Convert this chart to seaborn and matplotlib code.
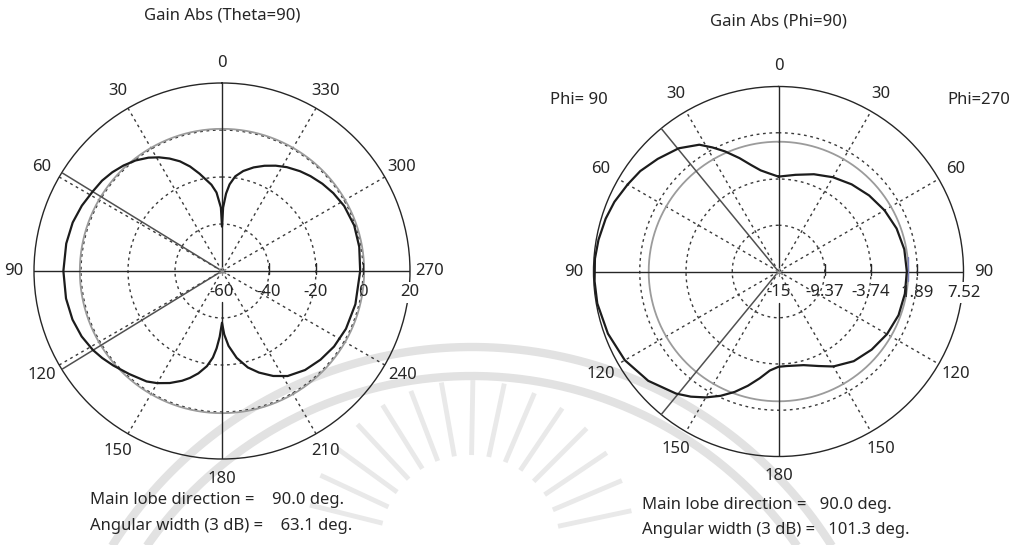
import numpy as np
import matplotlib
matplotlib.use("Agg")
import matplotlib.pyplot as plt
import seaborn as sns

sns.set_style("white")
plt.rcParams["font.family"] = ["Noto Sans", "DejaVu Sans"]

W, H, DPI = 1022, 545, 100

# ---------------- Gain Abs (Theta=90) : dB vs angle ----------------
theta90_angle = [0, 1, 4, 7, 10, 13, 17, 21, 25, 29, 33, 38, 43, 48, 53, 58.5,
                 65, 72, 80, 90, 100, 108, 115, 121.5, 126, 131, 138, 145.7,
                 150, 155, 160, 163.3, 167, 171, 174, 176, 178, 180, 182, 185,
                 189.6, 195, 200, 206, 212, 220, 228, 236, 245, 256, 270, 280,
                 289, 298, 305, 311, 317, 322, 328, 333, 338, 343, 348, 352,
                 355, 357, 359, 360]
theta90_gain = [-41, -33, -26.5, -23, -20.5, -17.5, -13.5, -10, -7.2, -4.7,
                -2.5, -0.3, 1.4, 2.8, 3.9, 4.6, 5.8, 6.8, 7.3, 7.5, 7.4, 6.9,
                5.9, 4.4, 3.0, 1.3, -1.0, -3.1, -4.9, -7.4, -10.3, -12.5,
                -15.3, -19, -23, -27, -32, -38, -33, -28, -22.5, -17.5, -14,
                -10.3, -7.3, -5.0, -3.6, -2.5, -1.8, -1.5, -1.2, -0.7, -0.5,
                -1.1, -2.2, -3.4, -4.8, -6.1, -7.9, -9.7, -11.7, -13.9, -16.5,
                -19.3, -23, -27, -33, -41]
theta90_rticks = [-60, -40, -20, 0, 20]
theta90_rtick_labels = ["-60", "-40", "-20", "0", "20"]
theta90_rings = [-40, -20, 0]
theta90_ref = 0.5
theta90_lobe = 90.0
theta90_width = 63.1
theta90_angle_labels = ["0", "30", "60", "90", "120", "150", "180",
                        "210", "240", "270", "300", "330"]

# ---------------- Gain Abs (Phi=90) : dB vs angle ----------------
# left half: Phi=90, right half: Phi=270 (angle measured round the full circle)
phi90_angle = [0, 5.5, 10, 14.5, 19, 24, 28, 32, 39, 47, 54, 60, 67, 73, 80,
               86, 93, 100, 110, 120, 130, 140, 145, 150, 155, 160, 165, 170,
               175, 180, 185, 195, 203, 210, 220, 230, 240, 250, 260, 270,
               280, 290, 300, 310, 320, 330, 340, 350, 360]
phi90_gain = [-3.45, -3.0, -2.5, -1.6, -0.4, 1.0, 2.1, 3.2, 4.3, 5.1, 5.8,
              6.2, 6.7, 7.0, 7.25, 7.4, 7.42, 7.4, 7.1, 6.6, 5.7, 4.4, 3.6,
              2.7, 1.7, 0.6, -0.6, -1.8, -2.9, -3.4, -3.45, -3.2, -2.5,
              -1.65, -0.75, -0.2, 0.25, 0.55, 0.62, 0.62, 0.55, 0.3, -0.1,
              -0.6, -1.15, -1.75, -2.4, -3.05, -3.45]
phi90_rticks = [-15, -9.37, -3.74, 1.89, 7.52]
phi90_rtick_labels = ["-15", "-9.37", "-3.74", "1.89", "7.52"]
phi90_rings = [-9.37, -3.74, 1.89]
phi90_ref = 0.8
phi90_lobe = 90.0
phi90_width = 101.3
phi90_angle_labels = ["0", "30", "60", "90", "120", "150", "180",
                      "150", "120", "90", "60", "30"]

INK = "#262626"
GRID = "#3a3a3a"
FS = 12


def polar_panel(cx, cy, rad, rlim, angles, gains, rticks, rlabels, rings,
                ref, lobe, width, alabels, title, title_y, info, info_x,
                ref_mark=False):
    ax = fig.add_axes([(cx - rad) / W, (H - cy - rad) / H,
                       2 * rad / W, 2 * rad / H], projection="polar")
    ax.set_theta_zero_location("N")
    ax.set_theta_direction(1)
    ax.set_ylim(*rlim)
    ax.grid(False)
    ax.set_xticks([])
    ax.set_yticks([])
    ax.patch.set_alpha(0)
    ax.spines["polar"].set_color(INK)
    ax.spines["polar"].set_linewidth(1.0)
    r0, r1 = rlim
    per_px = (r1 - r0) / rad
    full = np.linspace(0, 2 * np.pi, 721)

    # dotted rings and spokes
    for lvl in rings:
        ax.plot(full, np.full_like(full, lvl), color=GRID, lw=1.0,
                ls=(0, (2, 2.6)), zorder=2)
    for a in [30, 60, 120, 150, 210, 240, 300, 330]:
        ax.plot([np.deg2rad(a)] * 2, [r0, r1], color=GRID, lw=1.0,
                ls=(0, (2, 2.6)), zorder=2)

    # reference circle
    ax.plot(full, np.full_like(full, ref), color="#9b9b9b", lw=1.3, zorder=3)

    # main axes lines
    ax.plot([np.pi / 2, np.pi / 2], [r0, r1], color=INK, lw=1.0, zorder=3)
    ax.plot([3 * np.pi / 2, 3 * np.pi / 2], [r0, r1], color=INK, lw=1.0, zorder=3)
    ax.plot([0, 0], [r0, r1], color=INK, lw=1.0, zorder=3)
    ax.plot([np.pi, np.pi], [r0 + 31 * per_px, r1], color=INK, lw=1.0, zorder=3)

    # 3 dB beam edges
    for a in (lobe - width / 2, lobe + width / 2):
        ax.plot([np.deg2rad(a)] * 2, [r0, r1], color="#505050", lw=1.1, zorder=3)

    # pattern
    sns.lineplot(x=np.deg2rad(angles), y=gains, ax=ax, sort=False,
                 estimator=None, color="#1c1c1c", lw=1.6, zorder=5)
    ax.set_xlabel("")
    ax.set_ylabel("")

    # centre marker
    ax.plot([0], [r0], marker=(6, 2), ms=6, color="#8a8a8a", mew=0.8, zorder=6)

    # radial ticks along the right-hand horizontal axis
    tick_marker = [(0, -0.35), (0, 1.0)]
    for v, lab in zip(rticks, rlabels):
        if v != r0:
            ax.plot([3 * np.pi / 2], [v], marker=tick_marker, ms=12,
                    color=INK, mew=1.0, zorder=4)
        kw = {}
        if v == r1:
            kw["bbox"] = dict(boxstyle="square,pad=0.15", fc="white", ec="none")
        ax.annotate(lab, xy=(3 * np.pi / 2, v), xytext=(0, -21),
                    textcoords="offset pixels", ha="center", va="center",
                    fontsize=FS, color=INK, zorder=7, **kw)
    if ref_mark:
        ax.plot([3 * np.pi / 2], [ref], marker=[(0, -0.6), (0, 1.0)], ms=22,
                color="#7a7fb8", mew=1.0, zorder=4)

    # angle labels
    for i, lab in enumerate(alabels):
        a = np.deg2rad(30 * i)
        ax.text(a, r1 + 20 * per_px, lab, ha="center", va="center",
                fontsize=FS, color=INK)

    fig.text(cx / W, 1 - title_y / H, title, ha="center", va="center",
             fontsize=FS, color=INK)
    fig.text(info_x / W, 1 - info[0][1] / H, info[0][0], ha="left",
             va="center", fontsize=FS, color=INK)
    fig.text(info_x / W, 1 - info[1][1] / H, info[1][0], ha="left",
             va="center", fontsize=FS, color=INK)
    return ax


fig = plt.figure(figsize=(W / DPI, H / DPI), dpi=DPI)
fig.patch.set_facecolor("white")

# faint background emblem: two rings and a sunburst
bg = fig.add_axes([0, 0, 1, 1], zorder=-5)
bg.set_xlim(0, W)
bg.set_ylim(H, 0)
bg.axis("off")
t = np.linspace(np.deg2rad(12), np.deg2rad(168), 400)
for R in (425, 396):
    bg.plot(472 + R * np.cos(t), 772 - R * np.sin(t), color="#e2e2e2",
            lw=6, solid_capstyle="butt")
for a in np.deg2rad(np.arange(12, 170, 11)):
    bg.plot([470 + 90 * np.cos(a), 470 + 165 * np.cos(a)],
            [545 - 90 * np.sin(a), 545 - 165 * np.sin(a)],
            color="#e9e9e9", lw=3.5, solid_capstyle="butt")

polar_panel(222, 271, 188, (-60, 20), theta90_angle, theta90_gain,
            theta90_rticks, theta90_rtick_labels, theta90_rings, theta90_ref,
            theta90_lobe, theta90_width, theta90_angle_labels,
            "Gain Abs (Theta=90)", 16,
            [("Main lobe direction =    90.0 deg.", 500),
             ("Angular width (3 dB) =    63.1 deg.", 526)], 90)

polar_panel(778.5, 271.5, 185, (-15, 7.52), phi90_angle, phi90_gain,
            phi90_rticks, phi90_rtick_labels, phi90_rings, phi90_ref,
            phi90_lobe, phi90_width, phi90_angle_labels,
            "Gain Abs (Phi=90)", 22,
            [("Main lobe direction =   90.0 deg.", 505),
             ("Angular width (3 dB) =   101.3 deg.", 530)], 642,
            ref_mark=True)

fig.text(550 / W, 1 - 100 / H, "Phi= 90", ha="left", va="center",
         fontsize=FS, color=INK)
fig.text(1010 / W, 1 - 100 / H, "Phi=270", ha="right", va="center",
         fontsize=FS, color=INK)

fig.savefig("out.png", dpi=DPI, facecolor="white")
